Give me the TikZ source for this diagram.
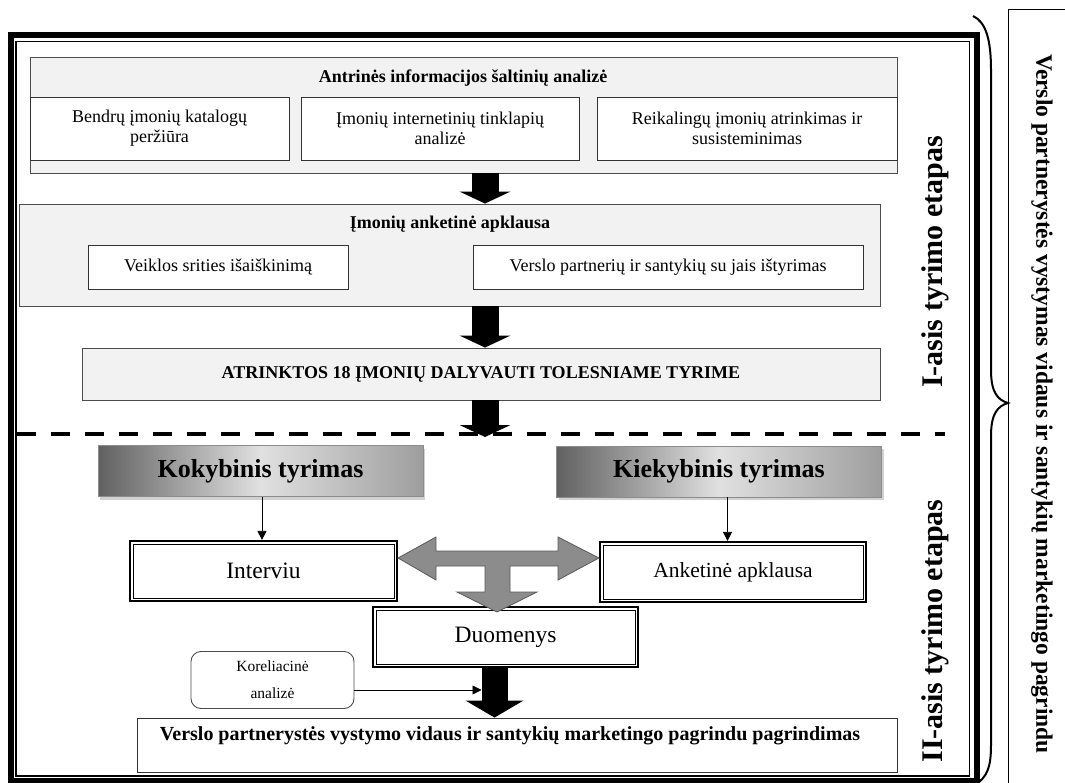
\documentclass[tikz,border=0pt]{standalone}
\usepackage{fontspec}
\setmainfont{Liberation Serif}
\usetikzlibrary{arrows.meta,shadows}
\tikzset{
  frameline/.style={line width=6pt},
  graybox/.style={draw=black!70, fill=black!5, line width=0.9pt, inner sep=0pt},
  subbox/.style={draw=black!80, fill=white, line width=0.9pt, inner sep=0pt, align=center, font=\fontsize{18}{20}\selectfont},
  headtxt/.style={inner sep=0pt, font=\fontsize{18}{20}\selectfont\bfseries},
  blkarrow/.style={line width=27pt, -{Triangle[width=51pt,length=12pt,line width=0pt]}},
  kokbox/.style={draw=black!45, left color=black!62, right color=black!38, middle color=black!12,
    drop shadow={shadow xshift=2pt, shadow yshift=-3pt, fill=black!30, opacity=0.6},
    minimum width=325pt, minimum height=51pt, inner sep=0pt, font=\fontsize{26}{28}\selectfont\bfseries},
  dblbox/.style={draw=black, line width=2.2pt, fill=white, minimum height=60pt, inner sep=0pt},
  innerline/.style={line width=0.8pt},
  thinarrow/.style={line width=0.8pt, -{Triangle[width=9pt,length=9pt]}},
  garrow/.style={draw=black!65, fill=black!45, line width=0.8pt, line join=miter},
  vlabel/.style={inner sep=0pt, font=\fontsize{30}{32}\selectfont\bfseries},
}
\begin{document}
\begin{tikzpicture}[x=1pt,y=-1pt]
\useasboundingbox (0,0) rectangle (1065,783);
% outer frame
\draw[frameline] (10.5,35) rectangle (977,781);
\draw[line width=1.2pt] (16,41.5) rectangle (969.5,776);

% ---------- stage I ----------
\node[graybox, minimum width=867pt, minimum height=116pt] (b1) at (463.5,115) {};
\node[headtxt] (b1h) at (463,78) {Antrinės informacijos šaltinių analizė};
\node[subbox, minimum width=259pt, minimum height=63pt] (s11) at (159.5,128.5) {Bendrų įmonių katalogų\\peržiūra};
\node[subbox, minimum width=278pt, minimum height=63pt] (s12) at (440,128.5) {Įmonių internetinių tinklapių\\analizė};
\node[subbox, minimum width=300pt, minimum height=63pt] (s13) at (747,128.5) {Reikalingų įmonių atrinkimas ir\\susisteminimas};

\node[graybox, minimum width=861pt, minimum height=102pt] (b2) at (449.5,255) {};
\node[headtxt] (b2h) at (450,224) {Įmonių anketinė apklausa};
\node[subbox, minimum width=260pt, minimum height=44pt] (s21) at (218,267) {Veiklos srities išaiškinimą};
\node[subbox, minimum width=390pt, minimum height=44pt] (s22) at (668,267) {Verslo partnerių ir santykių su jais ištyrimas};

\node[graybox, minimum width=798pt, minimum height=52pt, font=\fontsize{18}{20}\selectfont\bfseries] (b3) at (481,374) {ATRINKTOS 18 ĮMONIŲ DALYVAUTI TOLESNIAME TYRIME};

\coordinate (ax) at (485,0);
\draw[blkarrow] (b1.south -| ax) -- (b2.north -| ax);
\draw[blkarrow] (b2.south -| ax) -- (b3.north -| ax);

% dashed separator
\coordinate (dl) at (17,434);
\coordinate (dr) at (945,434);
\draw[line width=4pt, dash pattern=on 19pt off 15pt] (dl) -- (dr);
\coordinate (d3) at (485,437);
\draw[blkarrow] (b3.south -| ax) -- (d3);

% ---------- stage II ----------
\node[kokbox] (kok) at (260.5,471) {Kokybinis tyrimas};
\node[kokbox] (kiek) at (719,471.5) {Kiekybinis tyrimas};

\node[dblbox, minimum width=267pt, font=\fontsize{23.5}{25}\selectfont] (intv) at (263.5,571) {Interviu};
\node[dblbox, minimum width=266pt, font=\fontsize{21.5}{23}\selectfont] (anket) at (733,572) {Anketinė apklausa};
\node[dblbox, minimum width=265pt, font=\fontsize{23.5}{25}\selectfont] (duom) at (505.5,637) {Duomenys};
\foreach \n in {intv,anket,duom}
  \draw[innerline] ([xshift=4pt,yshift=-4pt]\n.north west) rectangle ([xshift=-4pt,yshift=4pt]\n.south east);

\draw[thinarrow] ([xshift=1.5pt]kok.south) -- ([xshift=1.5pt]kok.south |- intv.north);
\draw[thinarrow] ([xshift=8.5pt]kiek.south) -- ([xshift=8.5pt]kiek.south |- anket.north);

% grey T-shaped arrow
\coordinate (tc) at (497,558);
\draw[garrow] (intv.east |- tc) -- (436,537) -- (436,551) -- (558,551) -- (558,537) -- (anket.west |- tc)
  -- (558,580) -- (558,566) -- (510,566) -- (510,592) -- (537,592) -- (497,612) -- (457,592)
  -- (485,592) -- (485,566) -- (436,566) -- (436,580) -- cycle;

\node[draw=black!70, rounded corners=10pt, line width=0.9pt, minimum width=163pt, minimum height=57pt,
  align=center, inner sep=0pt, font=\fontsize{15.5}{27}\selectfont] (kor) at (272.5,680) {Koreliacinė\\analizė};

\node[draw=black!80, line width=0.9pt, fill=white, minimum width=760pt, minimum height=54pt, inner sep=0pt] (fin) at (517,745) {};
\node[inner sep=0pt, font=\fontsize{20}{22}\selectfont\bfseries] (fint) at (510,736) {Verslo partnerystės vystymo vidaus ir santykių marketingo pagrindu pagrindimas};

\coordinate (bx) at (494.5,0);
\draw[line width=26pt, -{Triangle[width=58pt,length=17pt,line width=0pt]}] (duom.south -| bx) -- (fin.north -| bx);
\coordinate (a4l) at (481.5,690);
\draw[thinarrow] (kor.east |- a4l) -- (a4l);

% stage labels
\node[vlabel, rotate=90] (l1) at (935,262) {I-asis tyrimo etapas};
\node[vlabel, rotate=90] (l2) at (935,631) {II-asis tyrimo etapas};

% brace
\draw[line width=2pt] (973,16) .. controls (986,22) and (991,40) .. (991,70) -- (991,370)
  .. controls (991,393) and (998,400) .. (1008,403) .. controls (998,406) and (991,413) .. (991,436)
  -- (991,745) .. controls (991,768) and (987,777) .. (975,785);

% side box
\node[draw, line width=0.8pt, minimum width=62pt, minimum height=781pt, inner sep=0pt] (side) at (1039.5,399.5) {};
\node[inner sep=0pt, rotate=-90, font=\fontsize{23.5}{25}\selectfont\bfseries] (sidet) at (1042,404) {Verslo partnerystės vystymas vidaus ir santykių marketingo pagrindu};
\end{tikzpicture}
\end{document}
